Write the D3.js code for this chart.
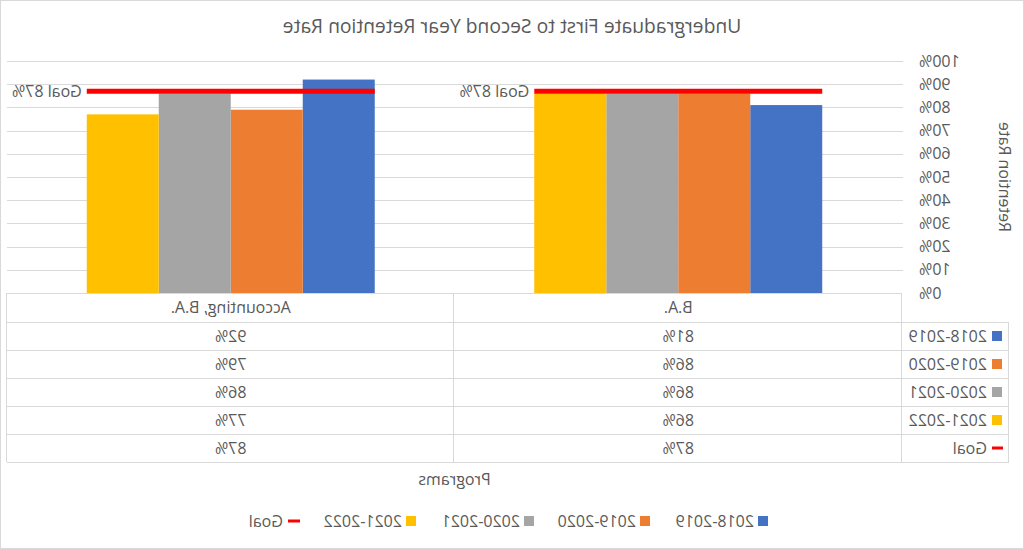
<!DOCTYPE html>
<html>
<head>
<meta charset="utf-8">
<script src="https://cdn.jsdelivr.net/npm/d3@7"></script>
<style>
  body { margin: 0; background: #fff; }
  text { font-family: "Open Sans", "Liberation Sans", Arial, sans-serif; fill: #595959; }
</style>
</head>
<body>
<div id="chart"></div>
<script>
// --------------------------------------
//  Data
// --------------------------------------

const programs = ["B.A.", "Accounting, B.A."];
const years = ["2018-2019", "2019-2020", "2020-2021", "2021-2022"];
const colors = ["#4472C4", "#ED7D31", "#A5A5A5", "#FFC000"];
const baValues = [81, 86, 86, 86];
const accountingValues = [92, 79, 86, 77];
const goalValues = [87, 87];
const yTicks = [0, 10, 20, 30, 40, 50, 60, 70, 80, 90, 100];

const valuesByProgram = [baValues, accountingValues];

// --------------------------------------
//  Canvas
// --------------------------------------

const width = 1024;
const height = 549;

const svg = d3
  .select("#chart")
  .append("svg")
  .attr("width", width)
  .attr("height", height)
  .attr("viewBox", [0, 0, width, height]);

// the reference picture is a mirror image, so everything is drawn flipped
const chart = svg
  .append("g")
  .attr("transform", `translate(${width},0) scale(-1,1)`);

chart.append("rect")
  .attr("x", 0.5).attr("y", 0.5)
  .attr("width", width - 1).attr("height", height - 1)
  .attr("fill", "#fff")
  .attr("stroke", "#d9d9d9");

// --------------------------------------
//  Scales
// --------------------------------------

const plotLeft = 122, plotRight = 1017;
const plotTop = 61, plotBottom = 293;

const x = d3.scaleBand(programs, [plotLeft, plotRight]).padding(0);
const x1 = d3.scaleBand(years, [0, x.bandwidth()]).paddingInner(0).paddingOuter(1.108);
const y = d3.scaleLinear([0, 100], [plotBottom, plotTop]);
const c = d3.scaleOrdinal(years, colors);

// --------------------------------------
//  Title & axis
// --------------------------------------

chart.append("text")
  .attr("x", 512).attr("y", 33)
  .attr("text-anchor", "middle")
  .attr("font-size", 19.3)
  .text("Undergraduate First to Second Year Retention Rate");

chart.append("g")
  .selectAll("line")
  .data(yTicks.slice(1))
  .join("line")
  .attr("x1", plotLeft - 1).attr("x2", plotRight)
  .attr("y1", d => Math.round(y(d)) + 0.5)
  .attr("y2", d => Math.round(y(d)) + 0.5)
  .attr("stroke", "#d9d9d9")
  .attr("stroke-width", 1);

const yAxis = chart.append("g")
  .attr("transform", `translate(${plotLeft - 17},0)`)
  .call(d3.axisLeft(y).tickValues(yTicks).tickSize(0).tickPadding(0).tickFormat(d => d + "%"));
yAxis.select(".domain").remove();
yAxis.selectAll("text")
  .attr("font-size", 16)
  .attr("font-family", "Open Sans, Liberation Sans, Arial, sans-serif")
  .attr("fill", "#595959");

chart.append("text")
  .attr("transform", `translate(25,${(plotTop + plotBottom) / 2}) rotate(-90)`)
  .attr("text-anchor", "middle")
  .attr("font-size", 16)
  .text("Retention Rate");

// --------------------------------------
//  Bars
// --------------------------------------

const barData = programs.flatMap((p, i) =>
  years.map((yr, j) => ({ program: p, year: yr, value: valuesByProgram[i][j] }))
);

chart.append("g")
  .selectAll("rect")
  .data(barData)
  .join("rect")
  .attr("x", d => x(d.program) + x1(d.year))
  .attr("width", x1.bandwidth())
  .attr("y", d => y(d.value))
  .attr("height", d => y(0) - y(d.value))
  .attr("fill", d => c(d.year));

// goal line + label
const goalData = programs.map((p, i) => ({ program: p, value: goalValues[i] }));

chart.append("g")
  .selectAll("line")
  .data(goalData)
  .join("line")
  .attr("x1", d => x(d.program) + x1(years[0]))
  .attr("x2", d => x(d.program) + x1(years[3]) + x1.bandwidth())
  .attr("y1", d => y(d.value))
  .attr("y2", d => y(d.value))
  .attr("stroke", "#FF0000")
  .attr("stroke-width", 5);

chart.append("g")
  .selectAll("text")
  .data(goalData)
  .join("text")
  .attr("x", d => x(d.program) + x1(years[3]) + x1.bandwidth() + 5)
  .attr("y", d => y(d.value))
  .attr("dy", "0.35em")
  .attr("font-size", 16)
  .attr("fill", "#404040")
  .text(d => `Goal ${d.value}%`);

// --------------------------------------
//  Data table
// --------------------------------------

const tableLeft = 15, rowH = 28;
const headTop = plotBottom, rowTop = plotBottom + 29;
const rows = years.map((yr, j) => ({ label: yr, color: colors[j], vals: valuesByProgram.map(v => v[j]), goal: false }))
  .concat([{ label: "Goal", color: "#FF0000", vals: goalValues, goal: true }]);
const tableBottom = rowTop + rowH * rows.length;

const table = chart.append("g").attr("stroke", "#d9d9d9").attr("fill", "none");

// horizontal rules
table.append("line")
  .attr("x1", plotLeft).attr("x2", plotRight)
  .attr("y1", headTop + 0.5).attr("y2", headTop + 0.5);
table.selectAll("line.row")
  .data(d3.range(rows.length + 1))
  .join("line")
  .attr("class", "row")
  .attr("x1", tableLeft).attr("x2", plotRight)
  .attr("y1", i => rowTop + rowH * i + 0.5)
  .attr("y2", i => rowTop + rowH * i + 0.5);

// vertical rules
table.append("line")
  .attr("x1", tableLeft + 0.5).attr("x2", tableLeft + 0.5)
  .attr("y1", rowTop).attr("y2", tableBottom);
table.selectAll("line.col")
  .data([plotLeft, x("Accounting, B.A."), plotRight])
  .join("line")
  .attr("class", "col")
  .attr("x1", d => Math.round(d) + 0.5).attr("x2", d => Math.round(d) + 0.5)
  .attr("y1", headTop).attr("y2", tableBottom);

chart.append("g")
  .selectAll("text")
  .data(programs)
  .join("text")
  .attr("x", d => x(d) + x.bandwidth() / 2)
  .attr("y", headTop + 14.5)
  .attr("dy", "0.35em")
  .attr("text-anchor", "middle")
  .attr("font-size", 16)
  .text(d => d);

const rowG = chart.append("g")
  .selectAll("g")
  .data(rows)
  .join("g")
  .attr("transform", (d, i) => `translate(0,${rowTop + rowH * i + rowH / 2})`);

rowG.filter(d => !d.goal).append("rect")
  .attr("x", 22).attr("y", -5)
  .attr("width", 10).attr("height", 10)
  .attr("fill", d => d.color);
rowG.filter(d => d.goal).append("line")
  .attr("x1", 21).attr("x2", 32)
  .attr("stroke", d => d.color)
  .attr("stroke-width", 3);

rowG.append("text")
  .attr("x", 37)
  .attr("dy", "0.35em")
  .attr("font-size", 16)
  .text(d => d.label);

rowG.selectAll("text.val")
  .data(d => d.vals.map((v, i) => ({ program: programs[i], v })))
  .join("text")
  .attr("class", "val")
  .attr("x", d => x(d.program) + x.bandwidth() / 2)
  .attr("dy", "0.35em")
  .attr("text-anchor", "middle")
  .attr("font-size", 16)
  .text(d => d.v + "%");

chart.append("text")
  .attr("x", (plotLeft + plotRight) / 2)
  .attr("y", 479)
  .attr("dy", "0.35em")
  .attr("text-anchor", "middle")
  .attr("font-size", 16)
  .text("Programs");

// --------------------------------------
//  Legend
// --------------------------------------

const legendItems = years.map((yr, j) => ({ label: yr, color: colors[j], goal: false }))
  .concat([{ label: "Goal", color: "#FF0000", goal: true }]);
const legendX = [256, 374, 490, 608, 724];

const legend = chart.append("g")
  .selectAll("g")
  .data(legendItems)
  .join("g")
  .attr("transform", (d, i) => `translate(${legendX[i]},521)`);

legend.filter(d => !d.goal).append("rect")
  .attr("x", 0).attr("y", -5)
  .attr("width", 10).attr("height", 10)
  .attr("fill", d => d.color);
legend.filter(d => d.goal).append("line")
  .attr("x1", 0).attr("x2", 12)
  .attr("stroke", d => d.color)
  .attr("stroke-width", 3);

legend.append("text")
  .attr("x", d => d.goal ? 17 : 14)
  .attr("dy", "0.35em")
  .attr("font-size", 16)
  .text(d => d.label);
</script>
</body>
</html>
